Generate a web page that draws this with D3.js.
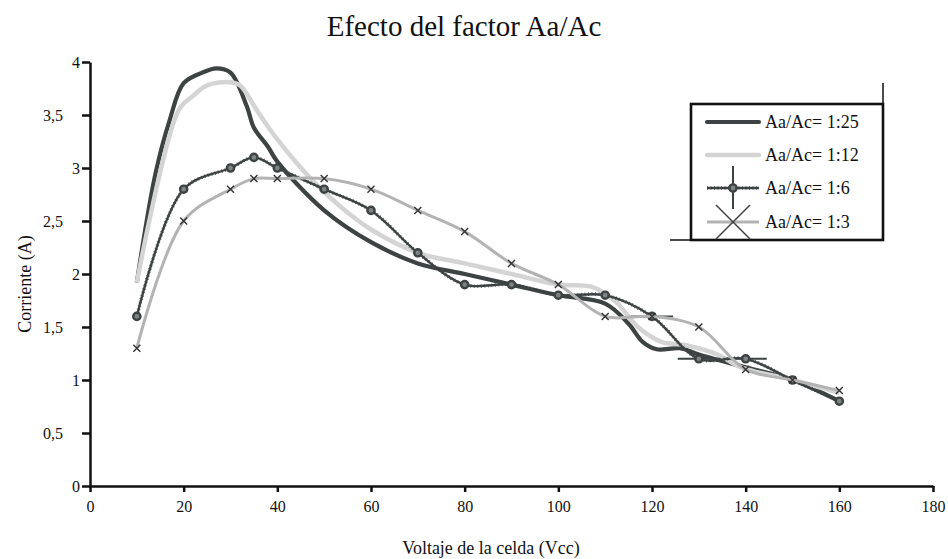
<!DOCTYPE html>
<html>
<head>
<meta charset="utf-8">
<script src="https://cdn.jsdelivr.net/npm/d3@7/dist/d3.min.js"></script>
<style>
  html, body { margin: 0; padding: 0; background: #fff; }
  svg { display: block; }
  text { font-family: "Liberation Serif", "Times New Roman", serif; fill: #111; }
</style>
</head>
<body>
<svg id="chart" width="948" height="559"></svg>
<script>
// ---- data ----
const seriesNames = ["Aa/Ac= 1:25", "Aa/Ac= 1:12", "Aa/Ac= 1:6", "Aa/Ac= 1:3"];

const x125 = [10, 14, 17, 20, 24, 27, 30, 33.5, 35, 38, 40, 50, 60, 70, 80, 90, 100, 110, 115, 118, 121, 126, 130, 140, 150, 160];
const y125 = [1.92, 2.95, 3.45, 3.8, 3.9, 3.94, 3.9, 3.58, 3.38, 3.2, 3.06, 2.6, 2.3, 2.1, 2.0, 1.9, 1.8, 1.72, 1.53, 1.36, 1.29, 1.3, 1.24, 1.12, 1.0, 0.8];

const x112 = [10, 19, 22, 25, 30, 32, 36, 40, 48, 55, 60, 70, 80, 90, 100, 107, 112, 117, 122, 127, 134, 139, 150, 160];
const y112 = [1.92, 3.55, 3.68, 3.78, 3.81, 3.78, 3.52, 3.27, 2.86, 2.58, 2.42, 2.2, 2.1, 2.0, 1.9, 1.88, 1.75, 1.5, 1.36, 1.33, 1.24, 1.12, 1.0, 0.88];

const x16 = [10, 20, 30, 35, 40, 50, 60, 70, 80, 90, 100, 110, 120, 130, 140, 150, 160];
const y16 = [1.6, 2.8, 3.0, 3.1, 3.0, 2.8, 2.6, 2.2, 1.9, 1.9, 1.8, 1.8, 1.6, 1.2, 1.2, 1.0, 0.8];
const err16 = [0, 0, 0, 0, 0, 0, 0, 0, 0, 0, 0, 0, 4.5, 4.5, 4.5, 0, 0];

const x13 = [10, 20, 30, 35, 40, 50, 60, 70, 80, 90, 100, 110, 120, 130, 140, 150, 160];
const y13 = [1.3, 2.5, 2.8, 2.9, 2.9, 2.9, 2.8, 2.6, 2.4, 2.1, 1.9, 1.6, 1.6, 1.5, 1.1, 1.0, 0.9];

const xTicks = [0, 20, 40, 60, 80, 100, 120, 140, 160, 180];
const yTicks = [0, 0.5, 1, 1.5, 2, 2.5, 3, 3.5, 4];
const yTickLabels = ["0", "0,5", "1", "1,5", "2", "2,5", "3", "3,5", "4"];

// ---- styles ----
const dark = "#3d4242";
const light = "#d4d4d4";
const mid = "#b3b3b3";

const svg = d3.select("#chart");
const x = d3.scaleLinear().domain([0, 180]).range([90, 933]);
const y = d3.scaleLinear().domain([0, 4]).range([486, 62]);

const zip = (xs, ys) => xs.map((v, i) => ({ x: v, y: ys[i] }));
const line = d3.line().x(d => x(d.x)).y(d => y(d.y)).curve(d3.curveCatmullRom.alpha(0.5));

// title
svg.append("text").attr("x", 464).attr("y", 36).attr("text-anchor", "middle")
  .style("font-size", "29px").text("Efecto del factor Aa/Ac");

// axes
const gx = svg.append("g").attr("transform", `translate(0,${y(0)})`)
  .call(d3.axisBottom(x).tickValues(xTicks).tickSize(6).tickSizeOuter(0).tickFormat(d3.format("d")));
gx.select(".domain").attr("stroke", "#111").attr("stroke-width", 2.5);
gx.selectAll(".tick line").attr("stroke", "#111").attr("stroke-width", 2.5);
gx.selectAll(".tick text").attr("y", 15).style("font-size", "16px")
  .style("font-family", "'Liberation Serif', serif").attr("fill", "#111");

const gy = svg.append("g").attr("transform", `translate(${x(0)},0)`)
  .call(d3.axisLeft(y).tickValues(yTicks).tickSize(8).tickSizeOuter(0)
    .tickFormat((d, i) => yTickLabels[i]));
gy.select(".domain").attr("stroke", "#111").attr("stroke-width", 2.5);
gy.selectAll(".tick line").attr("stroke", "#111").attr("stroke-width", 2.5);
gy.selectAll(".tick text")
  .attr("x", (d, i) => yTickLabels[i].includes(",") ? -27 : -10)
  .style("font-size", "16px").style("font-family", "'Liberation Serif', serif").attr("fill", "#111");

// axis titles
svg.append("text").attr("transform", "translate(31,284) rotate(-90)")
  .attr("text-anchor", "middle").style("font-size", "18px").text("Corriente (A)");
svg.append("text").attr("x", 491).attr("y", 554).attr("text-anchor", "middle")
  .style("font-size", "18px").text("Voltaje de la celda (Vcc)");

// series lines
const plot = svg.append("g");
plot.append("path").datum(zip(x125, y125)).attr("d", line)
  .attr("fill", "none").attr("stroke", dark).attr("stroke-width", 4.2).attr("stroke-linejoin", "round");
plot.append("path").datum(zip(x112, y112)).attr("d", line)
  .attr("fill", "none").attr("stroke", light).attr("stroke-width", 4.5).attr("stroke-linejoin", "round");

// 1:6 series: hatched dark line
const d16 = zip(x16, y16);
plot.append("path").datum(d16).attr("d", line)
  .attr("fill", "none").attr("stroke", dark).attr("stroke-width", 2.4);
plot.append("path").datum(d16).attr("d", line)
  .attr("fill", "none").attr("stroke", dark).attr("stroke-width", 3.6).attr("stroke-dasharray", "1,2.5")
  .attr("opacity", 0.8);
// error bars
plot.selectAll(".err").data(d16.map((d, i) => ({ ...d, e: err16[i] })).filter(d => d.e > 0))
  .enter().append("line")
  .attr("x1", d => x(d.x - d.e)).attr("x2", d => x(d.x + d.e))
  .attr("y1", d => y(d.y)).attr("y2", d => y(d.y))
  .attr("stroke", dark).attr("stroke-width", 2);
// circle markers
plot.selectAll(".c16").data(d16).enter().append("circle")
  .attr("cx", d => x(d.x)).attr("cy", d => y(d.y)).attr("r", 3.6)
  .attr("fill", "#7e8383").attr("stroke", dark).attr("stroke-width", 2.4);

// 1:3 series
const d13 = zip(x13, y13);
plot.append("path").datum(d13).attr("d", line)
  .attr("fill", "none").attr("stroke", mid).attr("stroke-width", 3).attr("stroke-linejoin", "round");
const cs = 3.5;
plot.selectAll(".x13").data(d13).enter().append("path")
  .attr("d", d => `M${x(d.x) - cs},${y(d.y) - cs}L${x(d.x) + cs},${y(d.y) + cs}M${x(d.x) - cs},${y(d.y) + cs}L${x(d.x) + cs},${y(d.y) - cs}`)
  .attr("stroke", "#333").attr("stroke-width", 1.4).attr("fill", "none");

// legend
const lg = svg.append("g");
lg.append("rect").attr("x", 691).attr("y", 104).attr("width", 192).attr("height", 136)
  .attr("fill", "#fff").attr("stroke", "#111").attr("stroke-width", 2.6);
lg.append("line").attr("x1", 883).attr("x2", 883).attr("y1", 83).attr("y2", 104)
  .attr("stroke", "#111").attr("stroke-width", 1.5);
lg.append("line").attr("x1", 670).attr("x2", 691).attr("y1", 240).attr("y2", 240)
  .attr("stroke", "#111").attr("stroke-width", 1.5);

const ly = [122, 155, 188, 222];
const lx1 = 707, lx2 = 759, lcx = 733;
lg.append("line").attr("x1", lx1).attr("x2", lx2).attr("y1", ly[0]).attr("y2", ly[0])
  .attr("stroke", dark).attr("stroke-width", 4.2).attr("stroke-linecap", "round");
lg.append("line").attr("x1", lx1).attr("x2", lx2).attr("y1", ly[1]).attr("y2", ly[1])
  .attr("stroke", light).attr("stroke-width", 4.5).attr("stroke-linecap", "round");
// 1:6 legend
lg.append("line").attr("x1", lx1).attr("x2", lx2).attr("y1", ly[2]).attr("y2", ly[2])
  .attr("stroke", dark).attr("stroke-width", 2.4);
lg.append("line").attr("x1", lx1).attr("x2", lx2).attr("y1", ly[2]).attr("y2", ly[2])
  .attr("stroke", dark).attr("stroke-width", 3.6).attr("stroke-dasharray", "1,2.5").attr("opacity", 0.8);
lg.append("line").attr("x1", lcx).attr("x2", lcx).attr("y1", 166).attr("y2", 209)
  .attr("stroke", dark).attr("stroke-width", 2);
lg.append("circle").attr("cx", lcx).attr("cy", ly[2]).attr("r", 3.6)
  .attr("fill", "#7e8383").attr("stroke", dark).attr("stroke-width", 2.4);
// 1:3 legend
lg.append("line").attr("x1", lx1).attr("x2", lx2).attr("y1", ly[3]).attr("y2", ly[3])
  .attr("stroke", mid).attr("stroke-width", 3);
lg.append("path").attr("d", `M${lcx - 17},${ly[3] - 17}L${lcx + 17},${ly[3] + 17}M${lcx - 17},${ly[3] + 17}L${lcx + 17},${ly[3] - 17}`)
  .attr("stroke", "#444").attr("stroke-width", 1.5).attr("fill", "none");

lg.selectAll(".lt").data(seriesNames).enter().append("text")
  .attr("x", 765).attr("y", (d, i) => ly[i] + 6).style("font-size", "18px").text(d => d);
</script>
</body>
</html>
